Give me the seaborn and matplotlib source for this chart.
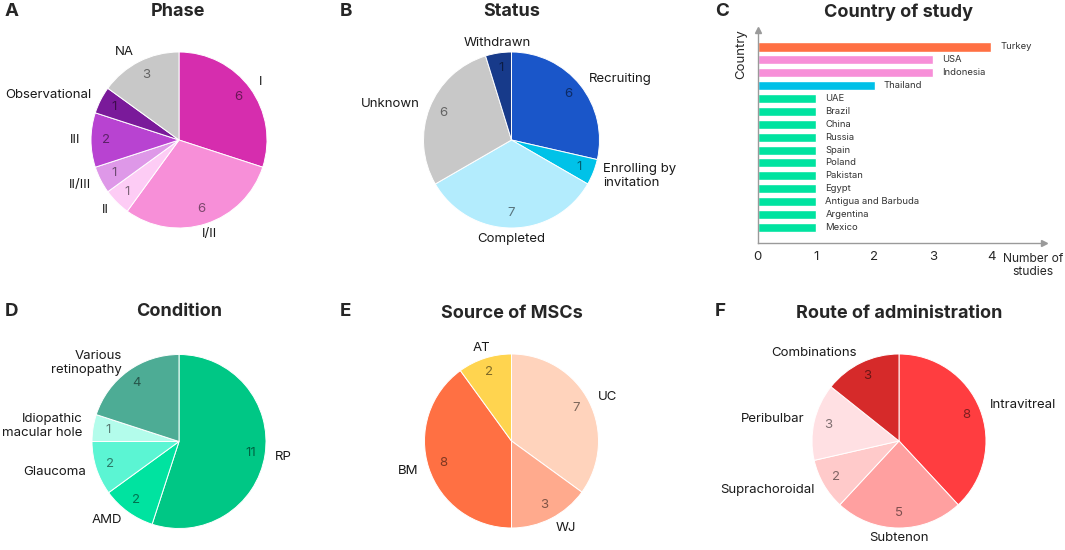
import matplotlib
matplotlib.use('Agg')
from matplotlib import pyplot as plt
import pandas as pd
import seaborn as sns

# Data
phase_labels = ['I', 'I/II', 'II', 'II/III', 'III', 'Observational', 'NA']
phase_counts = [6, 6, 1, 1, 2, 1, 3]
phase_colors = ['#D62DAE', '#F78FD8', '#FDCCF5', '#DE98E8', '#B843D1', '#7A1A9A', '#C8C8C8']

status_labels = ['Recruiting', 'Enrolling by\ninvitation', 'Completed', 'Unknown', 'Withdrawn']
status_counts = [6, 1, 7, 6, 1]
status_colors = ['#1A56C9', '#00C2E8', '#B3ECFD', '#C8C8C8', '#173A8A']

countries = ['Turkey', 'USA', 'Indonesia', 'Thailand', 'UAE', 'Brazil', 'China', 'Russia',
             'Spain', 'Poland', 'Pakistan', 'Egypt', 'Antigua and Barbuda', 'Argentina', 'Mexico']
n_studies = [4, 3, 3, 2, 1, 1, 1, 1, 1, 1, 1, 1, 1, 1, 1]
country_colors = ['#FF7043', '#F78FD8', '#F78FD8', '#00C0E8'] + ['#00E3A0'] * 11

condition_labels = ['RP', 'AMD', 'Glaucoma', 'Idiopathic\nmacular hole', 'Various\nretinopathy']
condition_counts = [11, 2, 2, 1, 4]
condition_colors = ['#00C785', '#00E3A0', '#5BF5D3', '#B3FCEB', '#4DAC95']

source_labels = ['UC', 'WJ', 'BM', 'AT']
source_counts = [7, 3, 8, 2]
source_colors = ['#FFD3BC', '#FFAA8D', '#FF7043', '#FFD44F']

route_labels = ['Intravitreal', 'Subtenon', 'Suprachoroidal', 'Peribulbar', 'Combinations']
route_counts = [8, 5, 2, 3, 3]
route_colors = ['#FF3D40', '#FFA0A0', '#FFCACA', '#FFE0E3', '#D62A2A']

sns.set_style('white')
plt.rcParams['font.family'] = ['Inter', 'DejaVu Sans']

W, H = 1065, 550
fig = plt.figure(figsize=(W / 100, H / 100), dpi=100)


def px_axes(left, top, width, height):
    return fig.add_axes([left / W, 1 - (top + height) / H, width / W, height / H])


def draw_pie(cx, cy, r, counts, labels, colors):
    ax = px_axes(cx - r, cy - r, 2 * r, 2 * r)
    total = sum(counts)
    wedges, texts, nums = ax.pie(
        counts, labels=labels, colors=colors, startangle=90, counterclock=False,
        labeldistance=1.12, pctdistance=0.83,
        autopct=lambda p: f'{round(p * total / 100)}',
        wedgeprops=dict(edgecolor='white', linewidth=0.7),
        textprops=dict(fontsize=9.5, color='#1a1a1a'))
    for t in texts:
        x, y = t.get_position()
        if abs(x) < 0.4:
            t.set_ha('center')
    for n in nums:
        n.set_color('black')
        n.set_alpha(0.5)
    ax.set_xlim(-1, 1)
    ax.set_ylim(-1, 1)
    return ax


def title(x, y, s):
    fig.text(x / W, 1 - y / H, s, ha='center', va='center', fontsize=13, weight='bold')


def letter(x, y, s):
    fig.text(x / W, 1 - y / H, s, ha='left', va='center', fontsize=13.5, weight='bold')


# Pies
draw_pie(179, 140, 88, phase_counts, phase_labels, phase_colors)
draw_pie(511.5, 140, 88, status_counts, status_labels, status_colors)
draw_pie(179, 441.5, 87, condition_counts, condition_labels, condition_colors)
draw_pie(511.5, 441, 87, source_counts, source_labels, source_colors)
draw_pie(899, 441, 87, route_counts, route_labels, route_colors)

# Country bar chart
axc = px_axes(757.7, 30, 1044 - 757.7, 243 - 30)
df = pd.DataFrame({'Country': countries, 'Studies': n_studies})
sns.barplot(data=df, x='Studies', y='Country', hue='Country', palette=country_colors,
            legend=False, width=0.7, saturation=1, ax=axc)
axc.set_xlim(0, 4.9)
axc.set_ylim(15.22, -1.32)
axc.set_xlabel('')
axc.set_ylabel('')
axc.set_yticks([])
axc.set_xticks([0, 1, 2, 3, 4])
axc.tick_params(axis='x', direction='in', length=5, color='#9a9a9a', labelsize=9.5, pad=6)
for side in ['top', 'right']:
    axc.spines[side].set_visible(False)
for side in ['left', 'bottom']:
    axc.spines[side].set_color('#9a9a9a')
    axc.spines[side].set_linewidth(1)
axc.plot(1, 0, '>', color='#9a9a9a', ms=4, transform=axc.transAxes, clip_on=False)
axc.plot(0, 1, '^', color='#9a9a9a', ms=4, transform=axc.transAxes, clip_on=False)
for i, (c, v) in enumerate(zip(countries, n_studies)):
    axc.text(v + 0.16, i, c, va='center', ha='left', fontsize=6.8, color='#333333')
fig.text(1033 / W, 1 - 253 / H, 'Number of\nstudies', ha='center', va='top', fontsize=8.7,
         linespacing=1.1)
fig.text(741 / W, 1 - 54 / H, 'Country', ha='center', va='center', rotation=90, fontsize=9.5)

# Titles and panel letters
title(178, 12, 'Phase')
title(512, 12, 'Status')
title(898, 12, 'Country of study')
title(179, 312, 'Condition')
title(512, 313, 'Source of MSCs')
title(899, 313, 'Route of administration')
letter(5, 12, 'A')
letter(340, 12, 'B')
letter(715, 12, 'C')
letter(5, 312, 'D')
letter(340, 312, 'E')
letter(715, 312, 'F')

fig.savefig('out.png', dpi=100)
